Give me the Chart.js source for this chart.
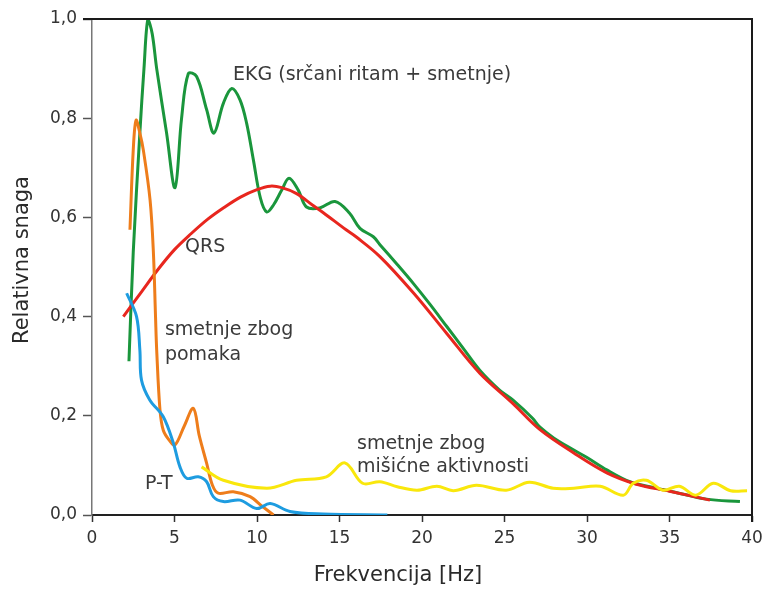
<!DOCTYPE html>
<html>
<head>
<meta charset="utf-8">
<script src="https://cdn.jsdelivr.net/npm/chart.js@4/dist/chart.umd.min.js"></script>
<style>
  html, body { margin: 0; padding: 0; background: #fff; }
  #wrap { width: 769px; height: 589px; position: relative; }
</style>
</head>
<body>
<div id="wrap"><canvas id="c" width="769" height="589"></canvas></div>
<script>
// ---- Data ----
const xTicks = [0, 5, 10, 15, 20, 25, 30, 35, 40];
const yTicks = [0, 0.2, 0.4, 0.6, 0.8, 1.0];

const ekgX = [2.24, 2.5, 2.9, 3.15, 3.39, 3.65, 3.92, 4.52, 5.03, 5.43, 5.84, 6.34, 6.95, 7.39, 7.96, 8.47, 8.97, 9.37, 9.78, 10.2, 10.59, 11.0, 11.5, 11.94, 12.5, 13.0, 13.8, 14.73, 15.6, 16.24, 17.05, 17.45, 18.5, 19.47, 20.5, 21.5, 22.5, 23.5, 24.7, 25.5, 26.7, 27.15, 28.0, 29.2, 30.0, 31.2, 32.6, 33.8, 35.2, 37.25, 39.27];
const ekgY = [0.31, 0.53, 0.77, 0.90, 1.0, 0.97, 0.90, 0.77, 0.66, 0.80, 0.89, 0.884, 0.817, 0.77, 0.83, 0.86, 0.837, 0.79, 0.716, 0.64, 0.611, 0.625, 0.655, 0.679, 0.655, 0.621, 0.619, 0.632, 0.609, 0.578, 0.561, 0.545, 0.505, 0.467, 0.424, 0.38, 0.336, 0.292, 0.252, 0.232, 0.195, 0.177, 0.155, 0.131, 0.116, 0.091, 0.067, 0.057, 0.047, 0.032, 0.027];

const qrsX = [1.9, 3.0, 4.0, 5.0, 6.0, 7.0, 8.0, 9.0, 10.0, 10.8, 11.5, 12.4, 13.4, 14.0, 15.4, 16.0, 17.45, 19.5, 21.5, 23.5, 25.5, 27.15, 29.2, 31.2, 33.0, 35.0, 37.45];
const qrsY = [0.40, 0.45, 0.495, 0.535, 0.567, 0.596, 0.62, 0.641, 0.656, 0.663, 0.660, 0.648, 0.624, 0.61, 0.575, 0.561, 0.521, 0.447, 0.366, 0.286, 0.225, 0.172, 0.125, 0.085, 0.062, 0.048, 0.03];

const pomakX = [2.3, 2.5, 2.67, 2.9, 3.11, 3.52, 3.72, 3.85, 3.92, 4.12, 4.32, 4.7, 5.03, 5.6, 6.14, 6.5, 6.95, 7.3, 7.65, 8.56, 9.58, 10.3, 11.0];
const pomakY = [0.575, 0.736, 0.796, 0.77, 0.736, 0.635, 0.53, 0.40, 0.333, 0.212, 0.171, 0.15, 0.141, 0.18, 0.215, 0.16, 0.104, 0.06, 0.044, 0.047, 0.037, 0.018, 0.0];

const ptX = [2.1, 2.7, 2.9, 3.0, 3.5, 4.32, 4.93, 5.33, 5.74, 6.44, 6.95, 7.35, 7.96, 8.97, 9.98, 10.8, 12.0, 14.0, 17.9];
const ptY = [0.447, 0.40, 0.333, 0.272, 0.232, 0.198, 0.145, 0.097, 0.074, 0.077, 0.067, 0.037, 0.027, 0.03, 0.013, 0.023, 0.007, 0.002, 0.0];

const misicX = [6.64, 7.96, 10.6, 12.4, 14.2, 15.33, 16.4, 17.45, 18.5, 19.7, 20.9, 21.9, 23.3, 25.1, 26.5, 27.95, 29.2, 30.8, 32.2, 32.8, 33.6, 34.6, 35.6, 36.6, 37.65, 38.7, 39.7];
const misicY = [0.097, 0.07, 0.054, 0.07, 0.077, 0.105, 0.064, 0.067, 0.057, 0.05, 0.058, 0.049, 0.06, 0.05, 0.066, 0.054, 0.054, 0.058, 0.04, 0.064, 0.07, 0.05, 0.058, 0.04, 0.064, 0.049, 0.049];

const seriesNames = ['EKG (srčani ritam + smetnje)', 'QRS', 'smetnje zbog pomaka', 'P-T', 'smetnje zbog mišićne aktivnosti'];

// Text annotations (data coordinates of their left/middle anchor)
const annotations = [
  { text: 'EKG (srčani ritam + smetnje)', x: 8.55, y: 0.887 },
  { text: 'QRS', x: 5.64, y: 0.540 },
  { text: 'smetnje zbog', x: 4.42, y: 0.373 },
  { text: 'pomaka', x: 4.42, y: 0.323 },
  { text: 'P-T', x: 3.21, y: 0.0625 },
  { text: 'smetnje zbog', x: 16.06, y: 0.143 },
  { text: 'mišićne aktivnosti', x: 16.06, y: 0.097 }
];

const toPts = (xs, ys) => xs.map((x, i) => ({ x: x, y: ys[i] }));

const FONT = "'DejaVu Sans', 'Liberation Sans', Arial, sans-serif";

const framePlugin = {
  id: 'frame',
  afterDraw(chart) {
    const { ctx, chartArea: a } = chart;
    ctx.save();
    ctx.strokeStyle = '#1a1a1a';
    ctx.lineWidth = 2;
    ctx.beginPath();
    ctx.moveTo(a.left - 9, a.top);
    ctx.lineTo(a.right, a.top);
    ctx.lineTo(a.right, a.bottom + 7);
    ctx.stroke();
    ctx.restore();
  }
};

const labelPlugin = {
  id: 'labels',
  afterDatasetsDraw(chart) {
    const { ctx, scales } = chart;
    ctx.save();
    ctx.fillStyle = '#3a3a3a';
    ctx.font = '19px ' + FONT;
    ctx.textAlign = 'left';
    ctx.textBaseline = 'middle';
    annotations.forEach(a => {
      ctx.fillText(a.text, scales.x.getPixelForValue(a.x), scales.y.getPixelForValue(a.y));
    });
    // x axis title
    ctx.fillStyle = '#2a2a2a';
    ctx.font = '21px ' + FONT;
    ctx.textAlign = 'center';
    ctx.textBaseline = 'middle';
    ctx.fillText('Frekvencija [Hz]', 398, 576);
    // y axis title
    ctx.translate(23, 260);
    ctx.rotate(-Math.PI / 2);
    ctx.fillText('Relativna snaga', 0, 0);
    ctx.restore();
  }
};

const mk = (label, xs, ys, color) => ({
  label: label,
  data: toPts(xs, ys),
  borderColor: color,
  backgroundColor: color,
  borderWidth: 3,
  pointRadius: 0,
  tension: 0.35,
  fill: false
});

new Chart(document.getElementById('c'), {
  type: 'line',
  data: {
    datasets: [
      mk(seriesNames[4], misicX, misicY, '#f9e70c'),
      mk(seriesNames[3], ptX, ptY, '#1e9ce0'),
      mk(seriesNames[2], pomakX, pomakY, '#ee7d1b'),
      mk(seriesNames[1], qrsX, qrsY, '#e8261e'),
      mk(seriesNames[0], ekgX, ekgY, '#1a963c')
    ]
  },
  options: {
    responsive: false,
    animation: false,
    layout: { padding: { top: 19, right: 17, left: 0, bottom: 0 } },
    plugins: { legend: { display: false }, tooltip: { enabled: false } },
    scales: {
      x: {
        type: 'linear',
        min: 0, max: 40,
        afterBuildTicks: s => { s.ticks = xTicks.map(v => ({ value: v })); },
        afterFit: s => { s.height = 74; },
        ticks: { color: '#333', font: { family: FONT, size: 17 }, padding: 6, maxRotation: 0 },
        grid: { drawOnChartArea: false, drawTicks: true, tickLength: 7, color: '#333', tickWidth: 1.5 },
        border: { color: '#222', width: 2 },
        title: { display: false }
      },
      y: {
        type: 'linear',
        min: 0, max: 1,
        afterBuildTicks: s => { s.ticks = yTicks.map(v => ({ value: v })); },
        afterFit: s => { s.width = 92; },
        ticks: {
          color: '#333', font: { family: FONT, size: 17 }, padding: 6,
          callback: v => v.toFixed(1).replace('.', ',')
        },
        grid: { drawOnChartArea: false, drawTicks: true, tickLength: 9, color: '#555', tickWidth: 1.5 },
        border: { color: '#777', width: 1.5 },
        title: { display: false }
      }
    }
  },
  plugins: [framePlugin, labelPlugin]
});
</script>
</body>
</html>
